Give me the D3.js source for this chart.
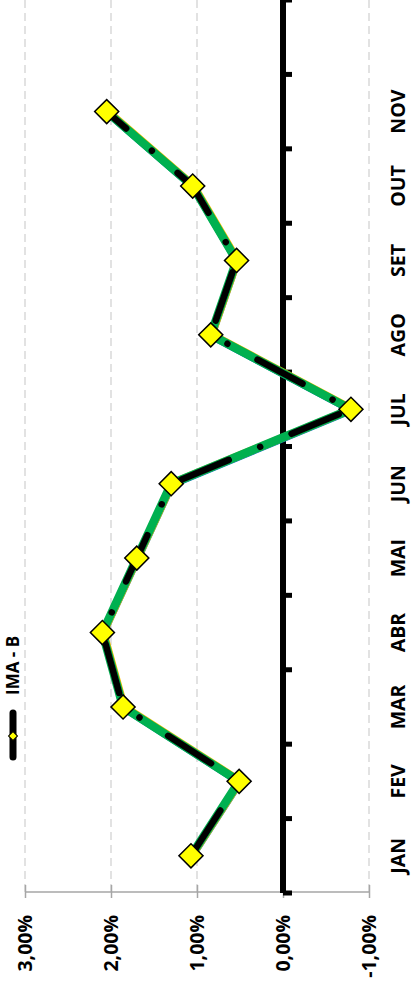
<!DOCTYPE html>
<html><head><meta charset="utf-8">
<script src="https://cdn.jsdelivr.net/npm/d3@7"></script>
<style>html,body{margin:0;padding:0;background:#fff;}svg{display:block;}</style>
</head><body>
<svg id="c" width="413" height="990"></svg>
<script>
const categories = ["JAN","FEV","MAR","ABR","MAI","JUN","JUL","AGO","SET","OUT","NOV",""];
const imaB = [1.07, 0.51, 1.86, 2.10, 1.70, 1.30, -0.79, 0.84, 0.54, 1.05, 2.05, null];
const valueTicks = [3, 2, 1, 0, -1];
const seriesName = "IMA - B";

const svg = d3.select("#c");
const font = "'Open Sans', 'Liberation Sans', sans-serif";

const x = d3.scaleLinear().domain([3, -1]).range([25, 369]);
const y = d3.scaleBand().domain(categories.map((c,i)=>i)).range([893, 0]).paddingInner(0).paddingOuter(0);
const yc = i => y(i) + y.bandwidth()/2;

// gridlines
svg.append("g").selectAll("line").data(valueTicks).join("line")
  .attr("x1", d=>x(d)).attr("x2", d=>x(d)).attr("y1", 0).attr("y2", 892)
  .attr("stroke", "#D9D9D9").attr("stroke-width", 1.5).attr("stroke-dasharray", "8,5");

// bottom value axis
const ax = svg.append("g").attr("transform", "translate(0,892)")
  .call(d3.axisBottom(x).tickValues(valueTicks).tickSize(6).tickFormat(""));
ax.select(".domain").attr("stroke", "#A6A6A6").attr("stroke-width", 1.5).attr("d", `M${x(3)},0H${x(-1)}`);
ax.selectAll(".tick line").attr("stroke", "#A6A6A6").attr("stroke-width", 1.5).attr("y1", -7);

svg.append("g").selectAll("text").data(valueTicks).join("text")
  .attr("transform", d=>`translate(${x(d)},915) rotate(-90)`)
  .attr("text-anchor", "end").attr("dy", "0.35em")
  .attr("font-family", font).attr("font-weight", "bold").attr("font-size", 19.5).attr("fill", "#000")
  .text(d => d3.format(".2f")(d).replace(".", ",").replace("−","-") + "%");

// zero (category) axis
const cat = svg.append("g").attr("transform", `translate(${x(0)},0)`);
cat.append("line").attr("x1", 0).attr("x2", 0).attr("y1", 0).attr("y2", 893)
  .attr("stroke", "#000").attr("stroke-width", 6);
const bounds = d3.range(categories.length + 1).map(k => k === categories.length ? 0 : y(k) + y.bandwidth());
cat.selectAll("line.tk").data(bounds).join("line").attr("class","tk")
  .attr("x1", 0).attr("x2", 9).attr("y1", d=>d).attr("y2", d=>d)
  .attr("stroke", "#000").attr("stroke-width", 5);

svg.append("g").selectAll("text").data(categories).join("text")
  .attr("transform", (d,i)=>`translate(398,${yc(i)}) rotate(-90)`)
  .attr("text-anchor", "middle").attr("dy", "0.35em")
  .attr("font-family", font).attr("font-weight", "bold").attr("font-size", 19.5).attr("fill", "#000")
  .text(d=>d);

// series
const pts = imaB.map((v,i)=>({v,i})).filter(d=>d.v!==null);
const line = d3.line().x(d=>x(d.v)).y(d=>yc(d.i));
svg.append("path").attr("d", line(pts)).attr("fill","none").attr("stroke","#0070C0")
  .attr("stroke-width", 8).attr("transform","translate(0.6,0.6)");
svg.append("path").attr("d", line(pts)).attr("fill","none").attr("stroke","#FFC000")
  .attr("stroke-width", 8).attr("transform","translate(0.9,-0.3)");
svg.append("path").attr("d", line(pts)).attr("fill","none").attr("stroke","#00B050")
  .attr("stroke-width", 8.5);
svg.append("path").attr("d", line(pts)).attr("fill","none").attr("stroke","#000")
  .attr("stroke-width", 6.5).attr("stroke-linecap","round").attr("stroke-linejoin","round")
  .attr("stroke-dasharray", "51,34,0.01,34").attr("stroke-dashoffset", -3);

const diamond = d3.symbol().type(d3.symbolSquare).size(290);
svg.append("g").selectAll("path").data(pts).join("path")
  .attr("transform", d=>`translate(${x(d.v)},${yc(d.i)}) rotate(45)`)
  .attr("d", diamond).attr("fill", "#FFFF00").attr("stroke", "#000").attr("stroke-width", 1.5);

// legend
const lg = svg.append("g");
lg.append("line").attr("x1", 13).attr("x2", 13).attr("y1", 713).attr("y2", 757)
  .attr("stroke", "#000").attr("stroke-width", 7).attr("stroke-linecap", "round");
lg.append("path").attr("transform", "translate(13,736) rotate(45)")
  .attr("d", d3.symbol().type(d3.symbolSquare).size(40)).attr("fill", "#FFFF00").attr("stroke", "#000").attr("stroke-width", 1);
lg.append("text").attr("transform", "translate(13,695) rotate(-90)")
  .attr("text-anchor", "start").attr("dy", "0.35em")
  .attr("font-family", font).attr("font-weight", "bold").attr("font-size", 17).attr("fill", "#000")
  .text(seriesName);
</script>
</body></html>
